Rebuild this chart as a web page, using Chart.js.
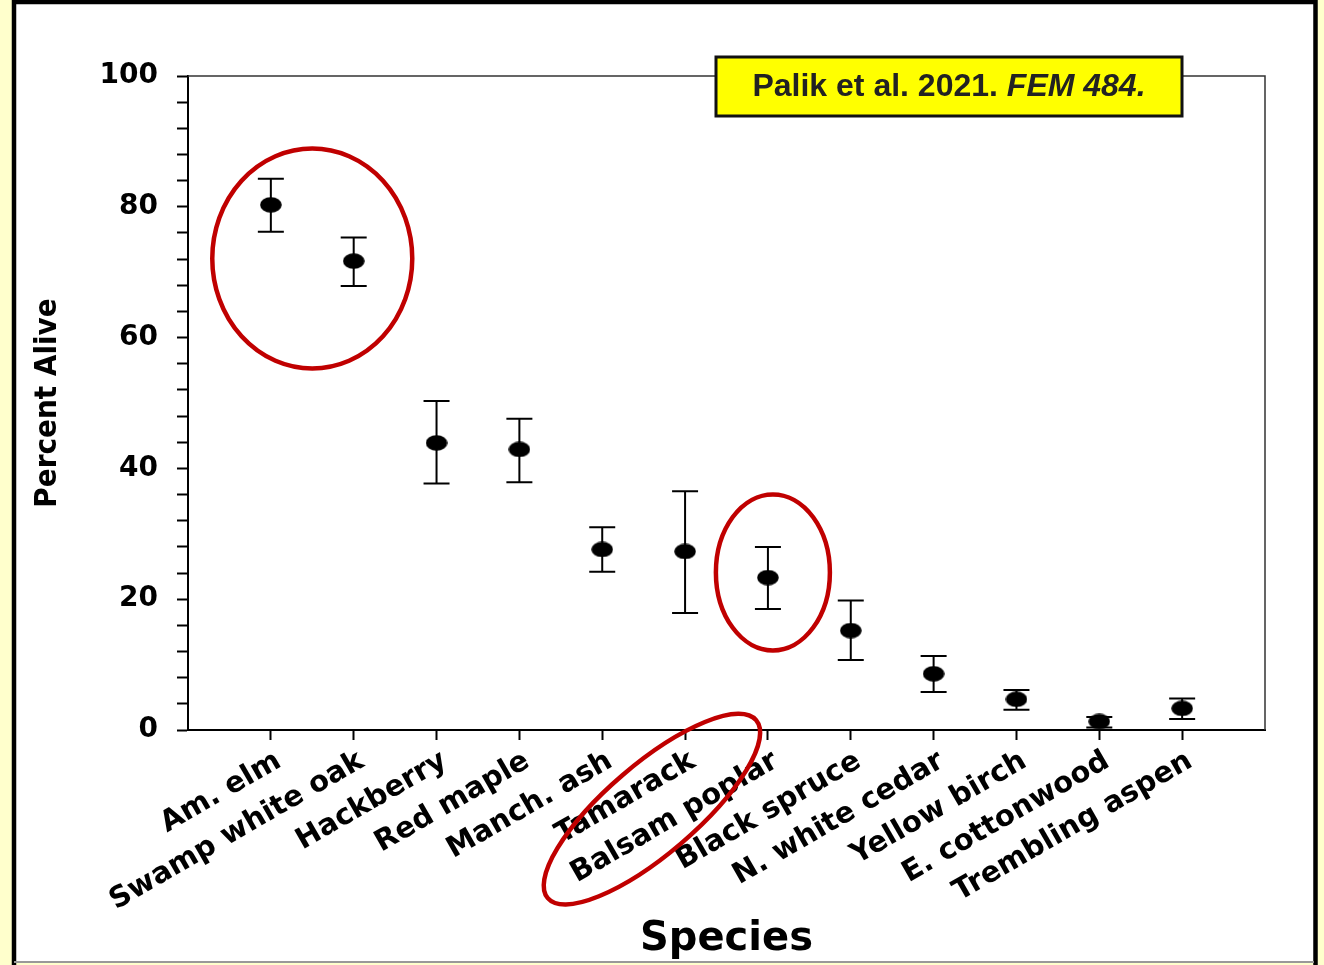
<!DOCTYPE html>
<html>
<head>
<meta charset="utf-8">
<title>Percent Alive by Species</title>
<script src="https://cdn.jsdelivr.net/npm/chart.js@4.4.1/dist/chart.umd.min.js"></script>
<style>
  html, body { margin: 0; padding: 0; background: #FFFFCC; }
  canvas { display: block; }
</style>
</head>
<body>
<canvas id="aliveChart" width="1324" height="965"></canvas>
<script>
const species = [
  "Am. elm",
  "Swamp white oak",
  "Hackberry",
  "Red maple",
  "Manch. ash",
  "Tamarack",
  "Balsam poplar",
  "Black spruce",
  "N. white cedar",
  "Yellow birch",
  "E. cottonwood",
  "Trembling aspen",
];
const meanAlive  = [80.3, 71.7, 43.9, 42.9, 27.6, 27.3, 23.3, 15.2, 8.6, 4.7, 1.3, 3.3];
const lowerAlive = [76.2, 67.9, 37.7, 37.9, 24.2, 17.9, 18.5, 10.7, 5.8, 3.1, 0.4, 1.7];
const upperAlive = [84.3, 75.3, 50.3, 47.6, 31.0, 36.5, 28.0, 19.8, 11.3, 6.1, 2.0, 4.8];
const yLabels = [0, 20, 40, 60, 80, 100];

// red circles drawn on the slide: centre in data units, radii in pixels
const highlights = [
  { x: 0.5, y: 72.1, rx: 100, ry: 110, angle: 0 },
  { x: 6.06, y: 24.1, rx: 57, ry: 78, angle: 0 },
  { x: 4.6, y: -12.1, rx: 137, ry: 45, angle: -40.5 },
];

const narrowFamily = '"Liberation Sans Narrow", "DejaVu Sans Condensed", "Liberation Sans", Arial, sans-serif';
const plainFamily = '"Liberation Sans", Arial, sans-serif';
const boldFamily = '"DejaVu Sans", "Liberation Sans", sans-serif';

// size the y title so it spans roughly the same length as the slide
const measure = document.createElement("canvas").getContext("2d");
measure.font = "bold 40px " + narrowFamily;
const yTitleSize = Math.round(40 * 212 / measure.measureText("Percent Alive").width);

// ellipse marker like the original
const dot = document.createElement("canvas");
dot.width = 22;
dot.height = 16;
const dctx = dot.getContext("2d");
dctx.fillStyle = "#000";
dctx.beginPath();
dctx.ellipse(11, 8, 10.8, 7.8, 0, 0, Math.PI * 2);
dctx.fill();

const framePlugin = {
  id: "frame",
  beforeDraw(chart) {
    const c = chart.ctx;
    c.save();
    c.fillStyle = "#FFFFCC";
    c.fillRect(0, 0, chart.width, chart.height);
    c.fillStyle = "#fff";
    c.fillRect(14, 2, 1301, 961);
    c.strokeStyle = "#000";
    c.lineWidth = 4.5;
    c.beginPath();
    c.moveTo(14, 965);
    c.lineTo(14, 2);
    c.lineTo(1315.5, 2);
    c.lineTo(1315.5, 965);
    c.stroke();
    c.strokeStyle = "#999";
    c.lineWidth = 2;
    c.beginPath();
    c.moveTo(14, 962);
    c.lineTo(1314, 962);
    c.stroke();
    c.restore();
  },
  beforeDatasetsDraw(chart) {
    const { ctx, chartArea: a, scales: { x, y } } = chart;
    ctx.save();
    // thin top and right box lines
    ctx.strokeStyle = "#333";
    ctx.lineWidth = 1.5;
    ctx.beginPath();
    ctx.moveTo(a.left, a.top);
    ctx.lineTo(a.right, a.top);
    ctx.lineTo(a.right, a.bottom);
    ctx.stroke();
    // error bars
    ctx.strokeStyle = "#000";
    ctx.lineWidth = 2;
    species.forEach((_, i) => {
      const px = x.getPixelForValue(i);
      const top = y.getPixelForValue(upperAlive[i]);
      const bot = y.getPixelForValue(lowerAlive[i]);
      ctx.beginPath();
      ctx.moveTo(px, top);
      ctx.lineTo(px, bot);
      ctx.moveTo(px - 13, top);
      ctx.lineTo(px + 13, top);
      ctx.moveTo(px - 13, bot);
      ctx.lineTo(px + 13, bot);
      ctx.stroke();
    });
    ctx.restore();
  },
  afterDraw(chart) {
    const { ctx, chartArea: a, scales: { x, y } } = chart;
    ctx.save();
    ctx.strokeStyle = "#C00000";
    ctx.lineWidth = 4.5;
    highlights.forEach(h => {
      ctx.beginPath();
      ctx.ellipse(x.getPixelForValue(h.x), y.getPixelForValue(h.y), h.rx, h.ry,
        h.angle * Math.PI / 180, 0, Math.PI * 2);
      ctx.stroke();
    });

    // citation box
    const bx = a.left + 528, by = 57, bw = 466, bh = 59;
    ctx.fillStyle = "#FFFF00";
    ctx.fillRect(bx, by, bw, bh);
    ctx.strokeStyle = "#111";
    ctx.lineWidth = 3;
    ctx.strokeRect(bx, by, bw, bh);
    const part1 = "Palik et al. 2021. ";
    const part2 = "FEM 484.";
    const f1 = "bold 32px " + plainFamily;
    const f2 = "italic bold 32px " + plainFamily;
    ctx.font = f1;
    const w1 = ctx.measureText(part1).width;
    ctx.font = f2;
    const w2 = ctx.measureText(part2).width;
    const tx = bx + bw / 2 - (w1 + w2) / 2;
    ctx.fillStyle = "#222";
    ctx.textBaseline = "middle";
    ctx.font = f1;
    ctx.fillText(part1, tx, by + bh / 2 + 1);
    ctx.font = f2;
    ctx.fillText(part2, tx + w1, by + bh / 2 + 1);
    ctx.restore();
  },
};

const ctx = document.querySelector("#aliveChart").getContext("2d");

const data = {
  datasets: [
    {
      label: "Percent Alive",
      data: species.map((_, i) => ({ x: i, y: meanAlive[i] })),
      showLine: false,
      pointStyle: dot,
      pointRadius: 9,
      pointHoverRadius: 9,
      backgroundColor: "#000",
      borderColor: "#000",
    },
  ],
};

const config = {
  type: "scatter",
  data: data,
  options: {
    responsive: false,
    animation: false,
    layout: { padding: { left: 16, top: 76, right: 59, bottom: 0 } },
    plugins: {
      legend: { display: false },
      tooltip: { enabled: false },
    },
    scales: {
      x: {
        type: "linear",
        min: -1,
        max: 12,
        afterBuildTicks: s => { s.ticks = species.map((_, i) => ({ value: i })); },
        afterFit: s => { s.height = 235; },
        ticks: {
          autoSkip: false,
          minRotation: 30,
          maxRotation: 30,
          padding: 4,
          labelOffset: 8,
          color: "#000",
          font: { family: boldFamily, weight: "bold", size: 29 },
          callback: v => species[v],
        },
        grid: { drawOnChartArea: false, tickLength: 10, tickWidth: 2, tickColor: "#000" },
        border: { color: "#000", width: 2 },
        title: {
          display: true,
          text: "Species",
          color: "#000",
          font: { family: boldFamily, weight: "bold", size: 40 },
          padding: { top: 0, bottom: 1 },
        },
      },
      y: {
        min: 0,
        max: 100,
        afterBuildTicks: s => {
          s.ticks = [];
          for (let v = 0; v <= 100; v += 4) s.ticks.push({ value: v });
        },
        afterFit: s => { s.width = 172; },
        ticks: {
          autoSkip: false,
          padding: 19,
          color: "#000",
          font: { family: boldFamily, weight: "bold", size: 28 },
          callback: v => (yLabels.includes(v) ? v : ""),
        },
        grid: { drawOnChartArea: false, tickLength: 11, tickWidth: 2, tickColor: "#000" },
        border: { color: "#000", width: 2 },
        title: {
          display: true,
          text: "Percent Alive",
          color: "#000",
          font: { family: narrowFamily, weight: "bold", size: yTitleSize },
          padding: { top: 13, bottom: 0 },
        },
      },
    },
  },
  plugins: [framePlugin],
};

const myChart = new Chart(ctx, config);
</script>
</body>
</html>
